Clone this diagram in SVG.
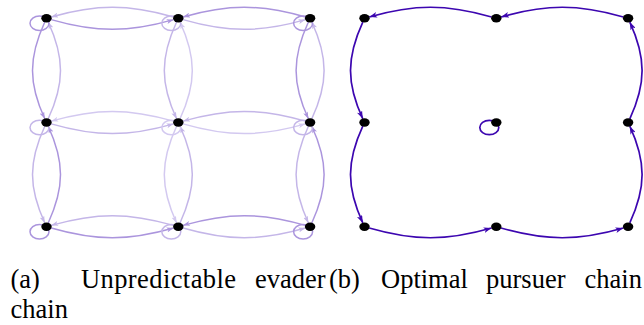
<svg xmlns="http://www.w3.org/2000/svg" width="644" height="325" viewBox="0 0 644 325">
<style>
.e{fill:none;stroke-width:1.5}
.c3{stroke:#ab95dd}
.c4{stroke:#c4b6e8}
.c5{stroke:#d3c9f0}
.pd{stroke:#3c06b0;stroke-width:1.7}
.c3.a{marker-end:url(#m3)}
.c4.a{marker-end:url(#m4)}
.c5.a{marker-end:url(#m5)}
.pd.a{marker-end:url(#mp)}
.nd{fill:#000}
.cap{font-family:"Liberation Serif","Times New Roman",serif;font-size:26.5px;fill:#000}
</style>
<defs>
<marker id="m3" viewBox="0 0 7 5" refX="7" refY="2.5" markerWidth="7" markerHeight="5" markerUnits="userSpaceOnUse" orient="auto"><path d="M0,0 L7,2.5 L0,5 L1.8,2.5 z" fill="#ab95dd"/></marker>
<marker id="m4" viewBox="0 0 7 5" refX="7" refY="2.5" markerWidth="7" markerHeight="5" markerUnits="userSpaceOnUse" orient="auto"><path d="M0,0 L7,2.5 L0,5 L1.8,2.5 z" fill="#c4b6e8"/></marker>
<marker id="m5" viewBox="0 0 7 5" refX="7" refY="2.5" markerWidth="7" markerHeight="5" markerUnits="userSpaceOnUse" orient="auto"><path d="M0,0 L7,2.5 L0,5 L1.8,2.5 z" fill="#d3c9f0"/></marker>
<marker id="mp" viewBox="0 0 7 5" refX="7" refY="2.5" markerWidth="8" markerHeight="5.7" markerUnits="userSpaceOnUse" orient="auto"><path d="M0,0 L7,2.5 L0,5 L1.8,2.5 z" fill="#3c06b0"/></marker>
</defs>

<g id="connectors-a">
<!-- row 0 -->
<path class="e a c3" transform="translate(46.5,18.3)" d="M4.7,1.35 C49.74,14.31 82.06,14.31 127.1,1.35"/>
<path class="e a c4" transform="translate(178.3,18.3)" d="M-4.7,-1.35 C-49.74,-14.31 -82.06,-14.31 -127.1,-1.35"/>
<path class="e a c4" transform="translate(178.3,18.3)" d="M4.7,1.35 C49.74,14.31 82.06,14.31 127.1,1.35"/>
<path class="e a c3" transform="translate(310.1,18.3)" d="M-4.7,-1.35 C-49.74,-14.31 -82.06,-14.31 -127.1,-1.35"/>
<!-- row 1 -->
<path class="e a c4" transform="translate(46.5,122.5)" d="M4.7,1.35 C49.74,14.31 82.06,14.31 127.1,1.35"/>
<path class="e a c5" transform="translate(178.3,122.5)" d="M-4.7,-1.35 C-49.74,-14.31 -82.06,-14.31 -127.1,-1.35"/>
<path class="e a c5" transform="translate(178.3,122.5)" d="M4.7,1.35 C49.74,14.31 82.06,14.31 127.1,1.35"/>
<path class="e a c4" transform="translate(310.1,122.5)" d="M-4.7,-1.35 C-49.74,-14.31 -82.06,-14.31 -127.1,-1.35"/>
<!-- row 2 -->
<path class="e a c3" transform="translate(46.5,226.7)" d="M4.7,1.35 C49.74,14.31 82.06,14.31 127.1,1.35"/>
<path class="e a c4" transform="translate(178.3,226.7)" d="M-4.7,-1.35 C-49.74,-14.31 -82.06,-14.31 -127.1,-1.35"/>
<path class="e a c4" transform="translate(178.3,226.7)" d="M4.7,1.35 C49.74,14.31 82.06,14.31 127.1,1.35"/>
<path class="e a c3" transform="translate(310.1,226.7)" d="M-4.7,-1.35 C-49.74,-14.31 -82.06,-14.31 -127.1,-1.35"/>
<!-- col 0 -->
<path class="e a c3" transform="translate(46.5,18.3)" d="M-1.71,3.72 C-18.1,39.32 -18.1,64.87 -1.71,100.48"/>
<path class="e a c4" transform="translate(46.5,122.5)" d="M1.71,-3.72 C18.1,-39.32 18.1,-64.87 1.71,-100.48"/>
<path class="e a c4" transform="translate(46.5,122.5)" d="M-1.71,3.72 C-18.1,39.32 -18.1,64.87 -1.71,100.48"/>
<path class="e a c3" transform="translate(46.5,226.7)" d="M1.71,-3.72 C18.1,-39.32 18.1,-64.87 1.71,-100.48"/>
<!-- col 1 -->
<path class="e a c4" transform="translate(178.3,18.3)" d="M-1.71,3.72 C-18.1,39.32 -18.1,64.87 -1.71,100.48"/>
<path class="e a c5" transform="translate(178.3,122.5)" d="M1.71,-3.72 C18.1,-39.32 18.1,-64.87 1.71,-100.48"/>
<path class="e a c5" transform="translate(178.3,122.5)" d="M-1.71,3.72 C-18.1,39.32 -18.1,64.87 -1.71,100.48"/>
<path class="e a c4" transform="translate(178.3,226.7)" d="M1.71,-3.72 C18.1,-39.32 18.1,-64.87 1.71,-100.48"/>
<!-- col 2 -->
<path class="e a c3" transform="translate(310.1,18.3)" d="M-1.71,3.72 C-18.1,39.32 -18.1,64.87 -1.71,100.48"/>
<path class="e a c4" transform="translate(310.1,122.5)" d="M1.71,-3.72 C18.1,-39.32 18.1,-64.87 1.71,-100.48"/>
<path class="e a c4" transform="translate(310.1,122.5)" d="M-1.71,3.72 C-18.1,39.32 -18.1,64.87 -1.71,100.48"/>
<path class="e a c3" transform="translate(310.1,226.7)" d="M1.71,-3.72 C18.1,-39.32 18.1,-64.87 1.71,-100.48"/>
<!-- loops -->
<ellipse class="e c3" cx="39.5" cy="23.3" rx="9.5" ry="7.2"/>
<ellipse class="e c4" cx="171.3" cy="23.3" rx="9.5" ry="7.2"/>
<ellipse class="e c3" cx="303.1" cy="23.3" rx="9.5" ry="7.2"/>
<ellipse class="e c4" cx="39.5" cy="127.5" rx="9.5" ry="7.2"/>
<ellipse class="e c5" cx="171.3" cy="127.5" rx="9.5" ry="7.2"/>
<ellipse class="e c4" cx="303.1" cy="127.5" rx="9.5" ry="7.2"/>
<ellipse class="e c3" cx="39.5" cy="231.7" rx="9.5" ry="7.2"/>
<ellipse class="e c4" cx="171.3" cy="231.7" rx="9.5" ry="7.2"/>
<ellipse class="e c3" cx="303.1" cy="231.7" rx="9.5" ry="7.2"/>
</g>

<g id="connectors-b">
<path class="e a pd" transform="translate(628.1,18.3)" d="M-4.7,-1.35 C-49.74,-14.31 -82.06,-14.31 -127.1,-1.35"/>
<path class="e a pd" transform="translate(496.3,18.3)" d="M-4.7,-1.35 C-49.74,-14.31 -82.06,-14.31 -127.1,-1.35"/>
<path class="e a pd" transform="translate(364.5,18.3)" d="M-1.71,3.72 C-18.1,39.32 -18.1,64.87 -1.71,100.48"/>
<path class="e a pd" transform="translate(364.5,122.5)" d="M-1.71,3.72 C-18.1,39.32 -18.1,64.87 -1.71,100.48"/>
<path class="e a pd" transform="translate(364.5,226.7)" d="M4.7,1.35 C49.74,14.31 82.06,14.31 127.1,1.35"/>
<path class="e a pd" transform="translate(496.3,226.7)" d="M4.7,1.35 C49.74,14.31 82.06,14.31 127.1,1.35"/>
<path class="e a pd" transform="translate(628.1,226.7)" d="M1.71,-3.72 C18.1,-39.32 18.1,-64.87 1.71,-100.48"/>
<path class="e a pd" transform="translate(628.1,122.5)" d="M1.71,-3.72 C18.1,-39.32 18.1,-64.87 1.71,-100.48"/>
<ellipse class="e pd" cx="489.3" cy="127.5" rx="9.5" ry="7.2"/>
</g>

<g id="a-n00"><ellipse class="nd" cx="46.5" cy="18.3" rx="5.2" ry="4.2"/></g>
<g id="a-n10"><ellipse class="nd" cx="178.3" cy="18.3" rx="5.2" ry="4.2"/></g>
<g id="a-n20"><ellipse class="nd" cx="310.1" cy="18.3" rx="5.2" ry="4.2"/></g>
<g id="a-n01"><ellipse class="nd" cx="46.5" cy="122.5" rx="5.2" ry="4.2"/></g>
<g id="a-n11"><ellipse class="nd" cx="178.3" cy="122.5" rx="5.2" ry="4.2"/></g>
<g id="a-n21"><ellipse class="nd" cx="310.1" cy="122.5" rx="5.2" ry="4.2"/></g>
<g id="a-n02"><ellipse class="nd" cx="46.5" cy="226.7" rx="5.2" ry="4.2"/></g>
<g id="a-n12"><ellipse class="nd" cx="178.3" cy="226.7" rx="5.2" ry="4.2"/></g>
<g id="a-n22"><ellipse class="nd" cx="310.1" cy="226.7" rx="5.2" ry="4.2"/></g>

<g id="b-n00"><ellipse class="nd" cx="364.5" cy="18.3" rx="5.2" ry="4.2"/></g>
<g id="b-n10"><ellipse class="nd" cx="496.3" cy="18.3" rx="5.2" ry="4.2"/></g>
<g id="b-n20"><ellipse class="nd" cx="628.1" cy="18.3" rx="5.2" ry="4.2"/></g>
<g id="b-n01"><ellipse class="nd" cx="364.5" cy="122.5" rx="5.2" ry="4.2"/></g>
<g id="b-n11"><ellipse class="nd" cx="496.3" cy="122.5" rx="5.2" ry="4.2"/></g>
<g id="b-n21"><ellipse class="nd" cx="628.1" cy="122.5" rx="5.2" ry="4.2"/></g>
<g id="b-n02"><ellipse class="nd" cx="364.5" cy="226.7" rx="5.2" ry="4.2"/></g>
<g id="b-n12"><ellipse class="nd" cx="496.3" cy="226.7" rx="5.2" ry="4.2"/></g>
<g id="b-n22"><ellipse class="nd" cx="628.1" cy="226.7" rx="5.2" ry="4.2"/></g>

<g id="captions">
<text class="cap" x="10.5" y="288">(a)</text>
<text class="cap" x="81" y="288" textLength="155" lengthAdjust="spacing">Unpredictable</text>
<text class="cap" x="255" y="288">evader</text>
<text class="cap" x="329" y="288">(b)</text>
<text class="cap" x="381" y="288">Optimal</text>
<text class="cap" x="486" y="288">pursuer</text>
<text class="cap" x="584.5" y="288">chain</text>
<text class="cap" x="10.5" y="318">chain</text>
</g>
</svg>
